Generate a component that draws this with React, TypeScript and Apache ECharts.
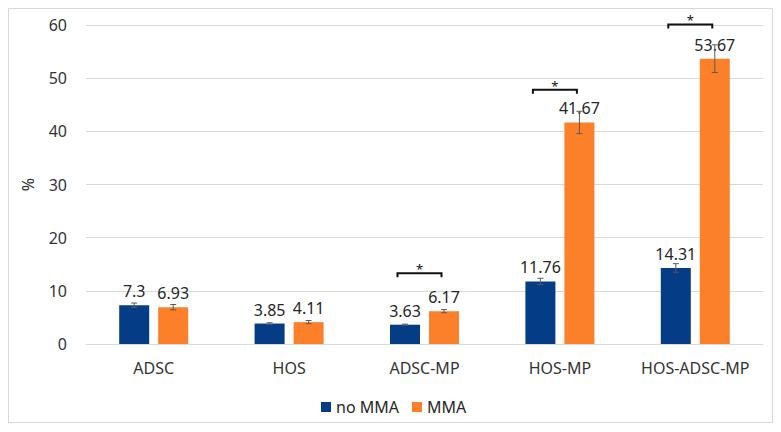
import React, { useEffect, useRef } from "react";
import * as echarts from "echarts";

const categories = ["ADSC", "HOS", "ADSC-MP", "HOS-MP", "HOS-ADSC-MP"];
const seriesNames = ["no MMA", "MMA"];
const noMMA = [7.3, 3.85, 3.63, 11.76, 14.31];
const mma = [6.93, 4.11, 6.17, 41.67, 53.67];
const noMMAErr = [0.4, 0.15, 0.1, 0.6, 0.8];
const mmaErr = [0.5, 0.3, 0.3, 2.1, 2.6];
// significance brackets: [category index, bracket level]
const brackets = [
  [2, 13.3],
  [3, 47.8],
  [4, 60.1],
];
const yTicks = { min: 0, max: 60, interval: 10 };

const BLUE = "#043d86";
const ORANGE = "#fc7f29";
const FONT = "Noto Sans";
const BAR_W = 30;
const BAR_GAP = 9;
const OFFSET = (BAR_W + BAR_GAP) / 2;

function errSeries(values: number[], errs: number[], dir: number) {
  return {
    type: "custom",
    silent: true,
    z: 5,
    data: values.map((v, i) => [i, v, errs[i]]),
    encode: { x: 0, y: 1 },
    renderItem: (params: any, api: any) => {
      const c = api.value(0);
      const v = api.value(1);
      const e = api.value(2);
      const top = api.coord([c, v + e]);
      const bot = api.coord([c, v - e]);
      const x = top[0] + dir * OFFSET;
      const st = { stroke: "#5a5a5a", lineWidth: 1 };
      return {
        type: "group",
        children: [
          { type: "line", shape: { x1: x, y1: top[1], x2: x, y2: bot[1] }, style: st },
          { type: "line", shape: { x1: x - 3, y1: top[1], x2: x + 3, y2: top[1] }, style: st },
          { type: "line", shape: { x1: x - 3, y1: bot[1], x2: x + 3, y2: bot[1] }, style: st },
        ],
      };
    },
  };
}

export default function App() {
  const ref = useRef<HTMLDivElement>(null);
  useEffect(() => {
    if (!ref.current) return;
    const chart = echarts.init(ref.current, undefined, { renderer: "svg" });
    const labelStyle = {
      show: true,
      position: "top",
      distance: 6,
      fontSize: 16,
      fontFamily: FONT,
      color: "#262626",
    };
    chart.setOption({
      animation: false,
      textStyle: { fontFamily: FONT },
      grid: { left: 77, top: 16, right: 9, bottom: 78 },
      legend: {
        data: seriesNames,
        left: 307,
        top: 385,
        itemWidth: 10,
        itemHeight: 10,
        itemGap: 13,
        icon: "rect",
        textStyle: { fontSize: 16, fontFamily: FONT, color: "#262626" },
      },
      xAxis: {
        type: "category",
        data: categories,
        axisLine: { lineStyle: { color: "#d9d9d9" } },
        axisTick: { show: false },
        axisLabel: { interval: 0, fontSize: 16, fontFamily: FONT, color: "#333333", margin: 16 },
      },
      yAxis: {
        type: "value",
        min: yTicks.min,
        max: yTicks.max,
        interval: yTicks.interval,
        name: "%",
        nameLocation: "middle",
        nameRotate: 90,
        nameGap: 50,
        nameTextStyle: { fontSize: 16, fontFamily: FONT, color: "#333333" },
        axisLine: { show: false },
        axisTick: { show: false },
        splitLine: { lineStyle: { color: "#d9d9d9" } },
        axisLabel: { fontSize: 16, fontFamily: FONT, color: "#333333", margin: 19 },
      },
      series: [
        {
          name: seriesNames[0],
          type: "bar",
          data: noMMA,
          barWidth: BAR_W,
          barGap: (BAR_GAP / BAR_W) * 100 + "%",
          itemStyle: { color: BLUE },
          label: labelStyle,
        },
        {
          name: seriesNames[1],
          type: "bar",
          data: mma,
          barWidth: BAR_W,
          itemStyle: { color: ORANGE },
          label: labelStyle,
        },
        errSeries(noMMA, noMMAErr, -1),
        errSeries(mma, mmaErr, 1),
        {
          type: "custom",
          silent: true,
          clip: false,
          z: 6,
          data: brackets,
          encode: { x: 0, y: 1 },
          renderItem: (params: any, api: any) => {
            const p = api.coord([api.value(0), api.value(1)]);
            const x1 = p[0] - 27;
            const x2 = p[0] + 17;
            const y = p[1];
            const st = { stroke: "#111111", lineWidth: 2 };
            return {
              type: "group",
              children: [
                {
                  type: "polyline",
                  shape: { points: [[x1, y + 4], [x1, y], [x2, y], [x2, y + 4]] },
                  style: { ...st, fill: null },
                },
                {
                  type: "text",
                  style: {
                    text: "*",
                    x: (x1 + x2) / 2,
                    y: y - 4,
                    align: "center",
                    verticalAlign: "middle",
                    fontSize: 13,
                    fontFamily: FONT,
                    fill: "#111111",
                  },
                },
              ],
            };
          },
        },
      ],
    });
    return () => chart.dispose();
  }, []);
  return (
    <div
      style={{
        width: 765,
        height: 415,
        border: "1px solid #d9d9d9",
        boxSizing: "border-box",
      }}
    >
      <div ref={ref} style={{ width: 763, height: 413 }} />
    </div>
  );
}
